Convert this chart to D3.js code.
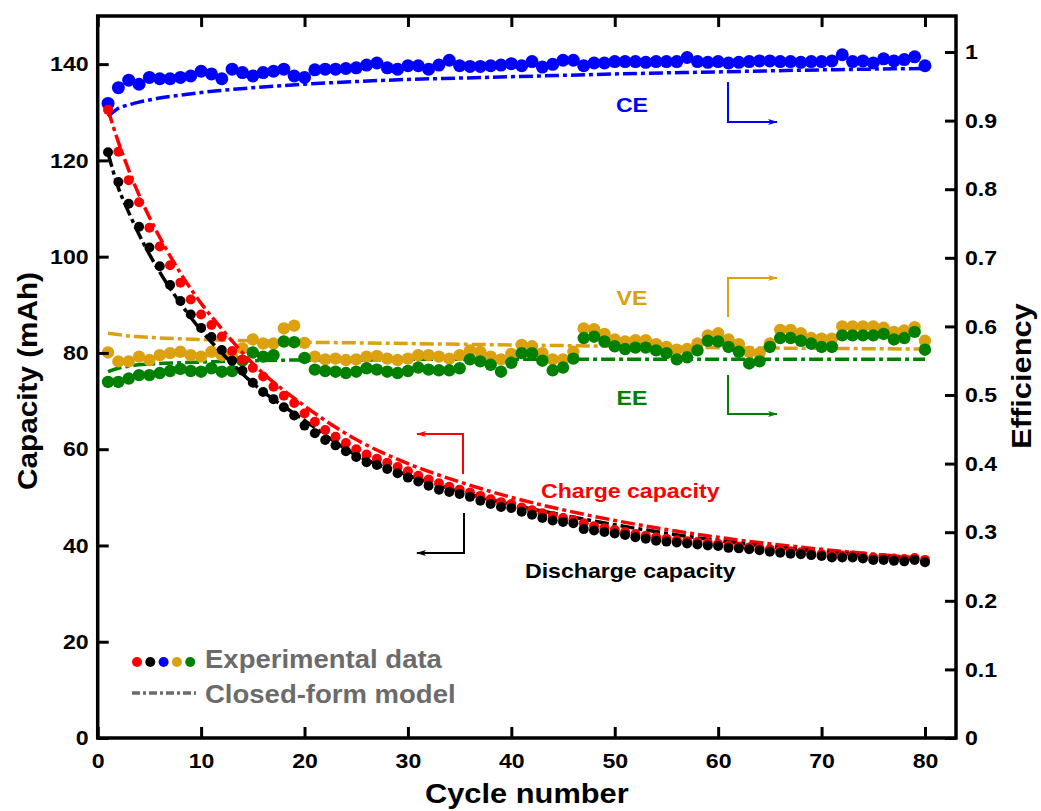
<!DOCTYPE html>
<html>
<head>
<meta charset="utf-8">
<script src="https://cdn.jsdelivr.net/npm/d3@7"></script>
<style>
  body { margin: 0; background: #fff; }
  text { font-family: "Liberation Sans", Arial, sans-serif; font-weight: bold; }
</style>
</head>
<body>
<script>
// ---- data ----
const cycles = d3.range(1, 81);

const chargeCap = [130.5, 121.8, 115.9, 111.3, 106.0, 102.1, 98.2, 94.6, 91.1, 88.0,
  85.8, 83.4, 80.4, 78.6, 76.9, 75.1, 73.0, 71.1, 69.6, 67.4,
  65.7, 64.0, 62.6, 61.3, 60.0, 58.9, 58.0, 57.2, 56.3, 55.4,
  54.5, 53.7, 52.9, 52.2, 51.6, 51.0, 50.3, 49.6, 49.0, 48.6,
  47.9, 47.3, 46.7, 46.1, 45.7, 45.3, 44.6, 44.0, 43.6, 43.2,
  42.8, 42.4, 42.0, 41.7, 41.4, 41.1, 40.9, 40.7, 40.5, 40.3,
  40.0, 39.8, 39.6, 39.4, 39.2, 39.0, 38.8, 38.6, 38.4, 38.2,
  38.0, 37.9, 37.9, 37.7, 37.5, 37.4, 37.3, 37.2, 37.4, 37.0];

const dischargeCap = [121.7, 115.5, 111.0, 106.2, 101.9, 98.0, 94.1, 90.8, 88.0, 85.2,
  83.3, 80.6, 78.4, 76.3, 73.8, 71.9, 70.4, 68.7, 67.0, 64.9,
  63.3, 61.9, 60.8, 59.6, 58.4, 57.3, 56.7, 55.9, 55.0, 54.1,
  53.3, 52.4, 51.6, 51.1, 50.7, 50.1, 49.3, 48.6, 48.0, 47.8,
  47.0, 46.4, 45.7, 45.2, 44.9, 44.6, 43.4, 43.1, 42.8, 42.5,
  42.2, 41.7, 41.4, 41.0, 40.8, 40.6, 40.4, 40.2, 40.0, 39.9,
  39.5, 39.4, 39.2, 39.0, 38.7, 38.5, 38.3, 38.2, 38.0, 37.8,
  37.5, 37.5, 37.5, 37.3, 37.0, 37.0, 36.8, 36.7, 37.0, 36.5];

const ce = [0.925, 0.948, 0.959, 0.953, 0.963, 0.961, 0.961, 0.963, 0.965, 0.972,
  0.968, 0.961, 0.975, 0.970, 0.965, 0.970, 0.972, 0.975, 0.965, 0.963,
  0.974, 0.975, 0.975, 0.976, 0.977, 0.981, 0.984, 0.977, 0.975, 0.980,
  0.980, 0.975, 0.981, 0.988, 0.980, 0.979, 0.979, 0.980, 0.981, 0.983,
  0.980, 0.986, 0.978, 0.982, 0.988, 0.988, 0.980, 0.984, 0.984, 0.986,
  0.986, 0.986, 0.985, 0.986, 0.986, 0.986, 0.992, 0.986, 0.985, 0.986,
  0.984, 0.985, 0.986, 0.987, 0.987, 0.986, 0.986, 0.985, 0.986, 0.986,
  0.987, 0.996, 0.986, 0.987, 0.984, 0.990, 0.987, 0.989, 0.993, 0.980];

const ve = [0.562, 0.549, 0.549, 0.556, 0.551, 0.558, 0.561, 0.563, 0.558, 0.556,
  0.563, 0.558, 0.556, 0.568, 0.581, 0.575, 0.575, 0.597, 0.601, 0.576,
  0.556, 0.552, 0.553, 0.551, 0.552, 0.556, 0.557, 0.553, 0.551, 0.553,
  0.558, 0.558, 0.556, 0.553, 0.558, 0.565, 0.563, 0.556, 0.552, 0.560,
  0.573, 0.571, 0.561, 0.552, 0.552, 0.563, 0.597, 0.596, 0.589, 0.581,
  0.578, 0.580, 0.580, 0.574, 0.570, 0.566, 0.567, 0.575, 0.587, 0.590,
  0.581, 0.574, 0.563, 0.561, 0.575, 0.595, 0.595, 0.590, 0.583, 0.582,
  0.582, 0.600, 0.600, 0.600, 0.600, 0.598, 0.592, 0.594, 0.599, 0.579];

const ee = [0.519, 0.519, 0.524, 0.529, 0.529, 0.532, 0.535, 0.538, 0.535, 0.534,
  0.539, 0.534, 0.535, 0.550, 0.562, 0.556, 0.558, 0.578, 0.577, 0.554,
  0.537, 0.535, 0.534, 0.532, 0.534, 0.539, 0.537, 0.534, 0.532, 0.535,
  0.540, 0.537, 0.536, 0.536, 0.539, 0.552, 0.549, 0.544, 0.534, 0.547,
  0.561, 0.561, 0.550, 0.536, 0.540, 0.553, 0.583, 0.585, 0.578, 0.571,
  0.567, 0.569, 0.569, 0.565, 0.561, 0.552, 0.555, 0.565, 0.579, 0.578,
  0.570, 0.563, 0.546, 0.549, 0.570, 0.583, 0.583, 0.579, 0.575, 0.570,
  0.570, 0.587, 0.587, 0.587, 0.587, 0.589, 0.581, 0.583, 0.592, 0.566];

// closed-form model, sampled at these cycles
const modelCycles = [1, 2, 3, 4, 5, 6, 8, 10, 12, 15, 20, 25, 30, 35, 40, 45, 50, 60, 70, 80];
const chargeModel = [130.5, 123.8, 118.0, 112.8, 108.2, 104.0, 96.6, 90.3, 85.0, 77.8,
  69.0, 62.0, 57.0, 53.2, 50.0, 47.4, 45.2, 41.7, 39.2, 37.3];
const dischargeModel = [121.5, 114.3, 109.2, 104.6, 100.5, 96.8, 90.3, 84.7, 80.0, 73.7,
  66.0, 58.8, 54.6, 51.2, 48.5, 46.3, 44.3, 41.0, 38.7, 37.0];
const ceModel = [0.906, 0.918, 0.923, 0.927, 0.930, 0.933, 0.937, 0.941, 0.944, 0.948,
  0.953, 0.957, 0.960, 0.962, 0.964, 0.966, 0.968, 0.971, 0.974, 0.976];
const veModel = [0.590, 0.588, 0.586, 0.585, 0.584, 0.583, 0.582, 0.581, 0.580, 0.579,
  0.577, 0.576, 0.575, 0.574, 0.573, 0.572, 0.571, 0.569, 0.568, 0.567];
const eeModel = [0.534, 0.539, 0.542, 0.544, 0.545, 0.546, 0.547, 0.548, 0.549, 0.550,
  0.551, 0.551, 0.552, 0.552, 0.552, 0.552, 0.552, 0.552, 0.552, 0.552];

const xTicks = [0, 10, 20, 30, 40, 50, 60, 70, 80];
const capTicks = [0, 20, 40, 60, 80, 100, 120, 140];
const effTicks = [0, 0.1, 0.2, 0.3, 0.4, 0.5, 0.6, 0.7, 0.8, 0.9, 1];

const RED = "#ff0000", BLACK = "#000000", BLUE = "#0000ff", GOLD = "#dba10f", GREEN = "#008000";

// ---- layout ----
const width = 1041, height = 811;
const margin = { top: 16, right: 85, bottom: 73, left: 97.7 };

const svg = d3.select("body").append("svg")
  .attr("width", width)
  .attr("height", height);

const x = d3.scaleLinear().domain([0, 83]).range([margin.left, width - margin.right]);
const yCap = d3.scaleLinear().domain([0, 150]).range([height - margin.bottom, margin.top]);
const yEff = d3.scaleLinear().domain([0, 1.0525]).range([height - margin.bottom, margin.top]);

// arrow heads
const defs = svg.append("defs");
[["blue", BLUE], ["gold", GOLD], ["green", GREEN], ["red", RED], ["black", BLACK]].forEach(([id, c]) => {
  defs.append("marker")
    .attr("id", "arr-" + id)
    .attr("viewBox", "0 0 10 6")
    .attr("refX", 9).attr("refY", 3)
    .attr("markerWidth", 10).attr("markerHeight", 6)
    .attr("markerUnits", "userSpaceOnUse")
    .attr("orient", "auto")
    .append("path")
    .attr("d", "M0,0 L10,3 L0,6 L2.5,3 Z")
    .attr("fill", c);
});

// ---- model lines and dots ----
function modelLine(vals, yscale, color) {
  const line = d3.line()
    .x((d, i) => x(modelCycles[i]))
    .y(d => yscale(d))
    .curve(d3.curveMonotoneX);
  svg.append("path")
    .datum(vals)
    .attr("d", line)
    .attr("fill", "none")
    .attr("stroke", color)
    .attr("stroke-width", 3.5)
    .attr("stroke-dasharray", "14,4,4,4");
}

function dots(vals, yscale, color, r) {
  svg.append("g")
    .selectAll("circle")
    .data(vals)
    .enter().append("circle")
    .attr("cx", (d, i) => x(cycles[i]))
    .attr("cy", d => yscale(d))
    .attr("r", r)
    .attr("fill", color);
}

modelLine(veModel, yEff, GOLD);
modelLine(eeModel, yEff, GREEN);
modelLine(ceModel, yEff, BLUE);
dots(ve, yEff, GOLD, 6.2);
dots(ee, yEff, GREEN, 6.2);
dots(ce, yEff, BLUE, 6.5);

modelLine(chargeModel, yCap, RED);
modelLine(dischargeModel, yCap, BLACK);
dots(chargeCap, yCap, RED, 5);
dots(dischargeCap, yCap, BLACK, 5);

// ---- axes (ticks inside) ----
const fmtEff = d3.format(".1~f");

svg.append("g")
  .attr("class", "axis")
  .attr("transform", `translate(0,${height - margin.bottom})`)
  .call(d3.axisBottom(x).tickValues(xTicks).tickSizeInner(-11).tickSizeOuter(0).tickPadding(15));

svg.append("g")
  .attr("class", "axis")
  .attr("transform", `translate(0,${margin.top})`)
  .call(d3.axisTop(x).tickValues(xTicks).tickSizeInner(-11).tickSizeOuter(0).tickFormat(""));

svg.append("g")
  .attr("class", "axis")
  .attr("transform", `translate(${margin.left},0)`)
  .call(d3.axisLeft(yCap).tickValues(capTicks).tickSizeInner(-11).tickSizeOuter(0).tickPadding(9));

svg.append("g")
  .attr("class", "axis")
  .attr("transform", `translate(${width - margin.right},0)`)
  .call(d3.axisRight(yEff).tickValues(effTicks).tickFormat(fmtEff).tickSizeInner(-11).tickSizeOuter(0).tickPadding(9));

svg.selectAll(".axis .domain").remove();
svg.selectAll(".axis line").attr("stroke", "#000").attr("stroke-width", 3);
svg.selectAll(".axis text")
  .attr("fill", "#000")
  .style("font-size", "21px")
  .style("font-family", "'Liberation Sans', Arial, sans-serif")
  .style("font-weight", "bold");

// frame
svg.append("rect")
  .attr("x", margin.left)
  .attr("y", margin.top)
  .attr("width", width - margin.right - margin.left)
  .attr("height", height - margin.bottom - margin.top)
  .attr("fill", "none")
  .attr("stroke", "#000")
  .attr("stroke-width", 3.5);

// axis titles
svg.append("text")
  .attr("x", (margin.left + width - margin.right) / 2)
  .attr("y", 803)
  .attr("text-anchor", "middle")
  .style("font-size", "28px")
  .text("Cycle number");

svg.append("text")
  .attr("transform", "translate(37,381) rotate(-90)")
  .attr("text-anchor", "middle")
  .style("font-size", "27px")
  .text("Capacity (mAh)");

svg.append("text")
  .attr("transform", "translate(1031,376) rotate(-90)")
  .attr("text-anchor", "middle")
  .style("font-size", "28px")
  .text("Efficiency");

// ---- annotations ----
function label(txt, px, py, color, anchor) {
  svg.append("text")
    .attr("x", px).attr("y", py)
    .attr("text-anchor", anchor)
    .attr("fill", color)
    .style("font-size", "21px")
    .text(txt);
}
function arrow(pts, color, id) {
  svg.append("path")
    .attr("d", d3.line()(pts))
    .attr("fill", "none")
    .attr("stroke", color)
    .attr("stroke-width", 2)
    .attr("marker-end", `url(#arr-${id})`);
}

label("CE", 632, 112, BLUE, "middle");
label("VE", 632, 305, GOLD, "middle");
label("EE", 632, 405, GREEN, "middle");
label("Charge capacity", 541, 498, RED, "start");
label("Discharge capacity", 525, 578, BLACK, "start");

arrow([[728, 82], [728, 122], [777, 122]], BLUE, "blue");
arrow([[728, 317], [728, 278], [777, 278]], GOLD, "gold");
arrow([[728, 375], [728, 414], [777, 414]], GREEN, "green");
arrow([[463, 474], [463, 434], [417, 434]], RED, "red");
arrow([[464, 513], [464, 553], [417, 553]], BLACK, "black");

// ---- legend ----
const legendColors = [RED, BLACK, BLUE, GOLD, GREEN];
const legend = svg.append("g");
legend.selectAll("circle")
  .data(legendColors)
  .enter().append("circle")
  .attr("cx", (d, i) => 137 + i * 13.3)
  .attr("cy", 662)
  .attr("r", 5)
  .attr("fill", d => d);

legend.append("line")
  .attr("x1", 132).attr("x2", 196)
  .attr("y1", 693).attr("y2", 693)
  .attr("stroke", "#6b6b6b")
  .attr("stroke-width", 3.5)
  .attr("stroke-dasharray", "8,3,3,3");

legend.append("text")
  .attr("x", 205).attr("y", 668)
  .attr("fill", "#6b6b6b")
  .style("font-size", "25px")
  .text("Experimental data");

legend.append("text")
  .attr("x", 205).attr("y", 703)
  .attr("fill", "#6b6b6b")
  .style("font-size", "25px")
  .text("Closed-form model");

// glyphs in the source figure are a bit wider than Arial
svg.selectAll("text").each(function() {
  const w = this.getComputedTextLength();
  if (w > 0) {
    this.setAttribute("textLength", (w * 1.1).toFixed(1));
    this.setAttribute("lengthAdjust", "spacingAndGlyphs");
  }
});
</script>
</body>
</html>
